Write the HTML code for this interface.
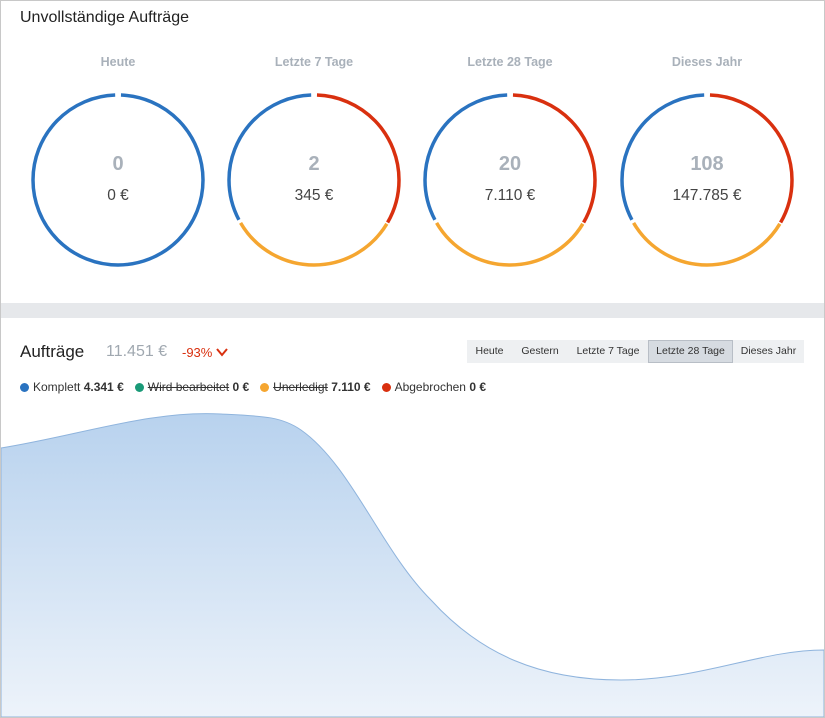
<!DOCTYPE html>
<html><head><meta charset="utf-8"><style>
body{margin:0;width:825px;height:718px;background:#fff;font-family:"Liberation Sans",sans-serif;position:relative;overflow:hidden;color:#222}
.a{position:absolute;white-space:nowrap}
.lab{font-size:12.5px;font-weight:bold;color:#a9b1ba;width:160px;text-align:center;top:55px}
.num{font-size:20px;font-weight:bold;color:#a9b1ba;width:160px;text-align:center;top:153px}
.amt{font-size:15.5px;color:#444;width:160px;text-align:center;top:187px}
.btns{left:467px;top:340px;height:23px;background:#eef0f2;display:flex;font-size:10.5px;color:#333}
.btns div{height:23px;line-height:23px;text-align:center;box-sizing:border-box}
.btns .on{background:#d6dbe1;border:1px solid #b8bec6;line-height:21px}
.leg{top:380px;left:20px;font-size:12px;color:#333}
.leg span.i{margin-right:11px}
.dot{display:inline-block;width:9px;height:9px;border-radius:50%;margin-right:4px;vertical-align:-1px}
</style></head><body>
<div class="a" style="left:0;top:0;width:823px;height:716px;border:1px solid #c8c8c8"></div>
<div class="a" style="left:1px;top:303px;width:823px;height:15px;background:#e6e8eb"></div>
<div class="a" style="left:20px;top:9px;font-size:16px;color:#222">Unvollständige Aufträge</div>
<div class="a lab" style="left:38px">Heute</div>
<div class="a lab" style="left:234px">Letzte 7 Tage</div>
<div class="a lab" style="left:430px">Letzte 28 Tage</div>
<div class="a lab" style="left:627px">Dieses Jahr</div>
<svg class="a" style="left:0;top:0" width="825" height="300">
<g fill="none" stroke-width="3.5">
<circle cx="118" cy="180" r="85" stroke="#2a73c0" stroke-dasharray="528 534" stroke-dashoffset="-3" transform="rotate(-90 118 180)"/>
<g transform="rotate(-90 314 180)">
<circle cx="314" cy="180" r="85" stroke="#d9300f" stroke-dasharray="175 534" stroke-dashoffset="-3"/>
<circle cx="314" cy="180" r="85" stroke="#f5a630" stroke-dasharray="176 534" stroke-dashoffset="-179.5"/>
<circle cx="314" cy="180" r="85" stroke="#2a73c0" stroke-dasharray="172 534" stroke-dashoffset="-359"/></g>
<g transform="rotate(-90 510 180)">
<circle cx="510" cy="180" r="85" stroke="#d9300f" stroke-dasharray="175 534" stroke-dashoffset="-3"/>
<circle cx="510" cy="180" r="85" stroke="#f5a630" stroke-dasharray="176 534" stroke-dashoffset="-179.5"/>
<circle cx="510" cy="180" r="85" stroke="#2a73c0" stroke-dasharray="172 534" stroke-dashoffset="-359"/></g>
<g transform="rotate(-90 707 180)">
<circle cx="707" cy="180" r="85" stroke="#d9300f" stroke-dasharray="175 534" stroke-dashoffset="-3"/>
<circle cx="707" cy="180" r="85" stroke="#f5a630" stroke-dasharray="176 534" stroke-dashoffset="-179.5"/>
<circle cx="707" cy="180" r="85" stroke="#2a73c0" stroke-dasharray="172 534" stroke-dashoffset="-359"/></g>
</g></svg>
<div class="a num" style="left:38px">0</div><div class="a amt" style="left:38px">0 €</div>
<div class="a num" style="left:234px">2</div><div class="a amt" style="left:234px">345 €</div>
<div class="a num" style="left:430px">20</div><div class="a amt" style="left:430px">7.110 €</div>
<div class="a num" style="left:627px">108</div><div class="a amt" style="left:627px">147.785 €</div>

<div class="a" style="left:20px;top:342px;font-size:17px;color:#222">Aufträge</div>
<div class="a" style="left:106px;top:343px;font-size:16px;color:#a0a8b0">11.451 €</div>
<div class="a" style="left:182px;top:345px;font-size:13px;color:#d9300f">-93% <svg width="12" height="9" style="vertical-align:0"><path d="M1 1 L6 7 L11 1" fill="none" stroke="#d9300f" stroke-width="2"/></svg></div>
<div class="a btns"><div style="width:45px">Heute</div><div style="width:56px">Gestern</div><div style="width:80px">Letzte 7 Tage</div><div class="on" style="width:85px">Letzte 28 Tage</div><div style="width:71px">Dieses Jahr</div></div>
<div class="a leg"><span class="i"><span class="dot" style="background:#2a73c0"></span>Komplett <b>4.341 €</b></span><span class="i"><span class="dot" style="background:#1a9a78"></span><s>Wird bearbeitet</s> <b>0 €</b></span><span class="i"><span class="dot" style="background:#f5a630"></span><s>Unerledigt</s> <b>7.110 €</b></span><span><span class="dot" style="background:#d9300f"></span>Abgebrochen <b>0 €</b></span></div>

<svg class="a" style="left:1px;top:400px" width="823" height="317">
<defs><linearGradient id="g" x1="0" y1="0" x2="0" y2="1"><stop offset="0" stop-color="#b8d2ee"/><stop offset="1" stop-color="#edf3fa"/></linearGradient></defs>
<path d="M0 48 C80 35 150 10 220 14 C260 16 280 16 300 30 C350 65 380 150 430 200 C480 255 540 280 620 280 C700 280 760 250 823 250 L823 317 L0 317 Z" fill="url(#g)" stroke="#8fb4dd" stroke-width="1"/>
</svg>
</body></html>
